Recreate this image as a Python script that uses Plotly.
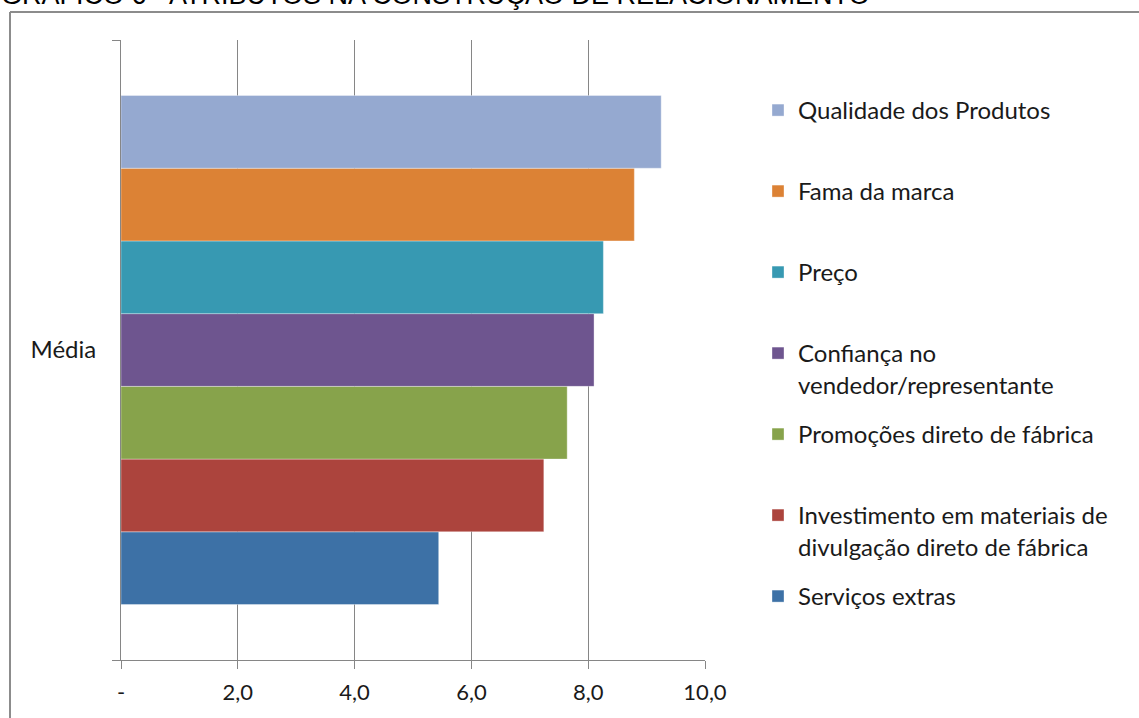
import plotly.graph_objects as go

# Average score per relationship attribute
category = ["Média"]
attributes = [
    "Qualidade dos Produtos",
    "Fama da marca",
    "Preço",
    "Confiança no<br>vendedor/representante",
    "Promoções direto de fábrica",
    "Investimento em materiais de<br>divulgação direto de fábrica",
    "Serviços extras",
]
scores = [9.25, 8.79, 8.26, 8.10, 7.64, 7.24, 5.44]
colors = ["#95A9D0", "#DC8235", "#3799B2", "#6E558F", "#87A34B", "#AC443D", "#3D71A6"]

x_tickvals = [0, 2, 4, 6, 8, 10]
x_ticktext = ["-", "2,0", "4,0", "6,0", "8,0", "10,0"]

title_text = "GRÁFICO 6 - ATRIBUTOS NA CONSTRUÇÃO DE RELACIONAMENTO"

FIG_W, FIG_H = 1139, 718
L, R, T, B = 121, 705, 40, 660
PW, PH = R - L, B - T


def px_x(p):
    return (p - L) / PW


def px_y(p):
    return (B - p) / PH


TEXT_FONT = "Lato, 'Open Sans', sans-serif"
GRID = "#868686"

fig = go.Figure()

# Bars are added bottom-to-top so the first attribute sits on top
legend_names = ["legend"] + [f"legend{i}" for i in range(2, len(attributes) + 1)]
order = list(range(len(attributes)))[::-1]
for i in order:
    fig.add_trace(
        go.Bar(
            y=category,
            x=[scores[i]],
            orientation="h",
            name=attributes[i],
            marker=dict(color=colors[i], line=dict(color="rgba(255,255,255,0.35)", width=1)),
            legend=legend_names[i],
            hoverinfo="x+name",
        )
    )

# One legend block per attribute, evenly spaced down the right side
legend_layout = {}
first_center = 110
step = 81
for i, name in enumerate(legend_names):
    center = first_center + i * step
    legend_layout[name] = dict(
        x=px_x(758),
        xanchor="left",
        y=px_y(center - 22),
        yanchor="top",
        valign="top",
        bgcolor="rgba(0,0,0,0)",
        borderwidth=0,
        font=dict(family=TEXT_FONT, size=24, color="#1a1a1a"),
        itemclick=False,
    )

fig.update_layout(
    width=FIG_W,
    height=FIG_H,
    margin=dict(l=L, r=FIG_W - R, t=T, b=FIG_H - B),
    paper_bgcolor="white",
    plot_bgcolor="white",
    barmode="group",
    bargap=0.179,
    bargroupgap=0,
    showlegend=True,
    **legend_layout,
    xaxis=dict(
        range=[0, 10],
        tickvals=x_tickvals,
        ticktext=x_ticktext,
        showgrid=True,
        gridcolor=GRID,
        gridwidth=1,
        zeroline=False,
        showline=True,
        linecolor=GRID,
        linewidth=1,
        ticks="outside",
        ticklen=8,
        tickcolor=GRID,
        ticklabelstandoff=5,
        tickfont=dict(family=TEXT_FONT, size=22, color="#1a1a1a"),
        fixedrange=True,
    ),
    yaxis=dict(
        type="category",
        showgrid=False,
        zeroline=False,
        showline=True,
        linecolor=GRID,
        linewidth=1,
        ticks="outside",
        tickson="boundaries",
        ticklen=8,
        tickcolor=GRID,
        ticklabelstandoff=19,
        tickfont=dict(family=TEXT_FONT, size=24, color="#1a1a1a"),
        fixedrange=True,
    ),
    annotations=[
        dict(
            text=title_text,
            xref="paper",
            yref="paper",
            x=px_x(-1),
            y=px_y(12),
            xanchor="left",
            yanchor="bottom",
            showarrow=False,
            font=dict(family="'Liberation Sans', Arial, sans-serif", size=27, color="#000000"),
        )
    ],
    shapes=[
        # chart frame: left and top edges
        dict(type="line", xref="paper", yref="paper",
             x0=px_x(10), x1=px_x(10), y0=px_y(12), y1=px_y(740),
             line=dict(color="#8c8c8c", width=2)),
        dict(type="line", xref="paper", yref="paper",
             x0=px_x(10), x1=px_x(1160), y0=px_y(12), y1=px_y(12),
             line=dict(color="#8c8c8c", width=2)),
    ],
)

fig.write_html("out.html", config={"displayModeBar": False})
